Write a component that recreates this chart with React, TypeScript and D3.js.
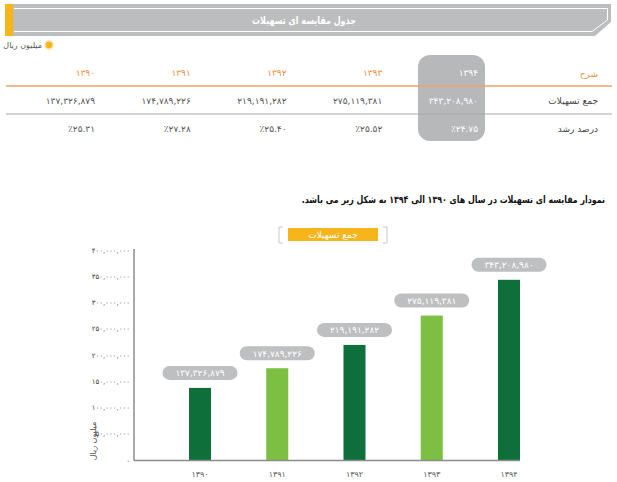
import React from 'react';
import * as d3 from 'd3';

const years = [1390, 1391, 1392, 1393, 1394];
const totals = [137326879, 174789226, 219191282, 275119381, 343208980];
const growth = [25.31, 27.28, 25.4, 25.52, 24.75];
const rowLabels = ['جمع تسهیلات', 'درصد رشد'];

const title = 'جدول مقایسه ای تسهیلات';
const unitLabel = 'میلیون ریال';
const caption = 'نمودار مقایسه ای تسهیلات در سال های ۱۳۹۰ الی ۱۳۹۴ به شکل زیر می باشد.';
const seriesName = 'جمع تسهیلات';

const fa = (s: string) => s.replace(/\d/g, (d) => '۰۱۲۳۴۵۶۷۸۹'[+d]);
const fmt = d3.format(',');
const pct = d3.format('.2f');

const FONT = '"DejaVu Sans", sans-serif';
const DARK = '#0e6f3a';
const LIGHT = '#7dbf43';

const App: React.FC = () => {
  const width = 617;
  const height = 482;

  // table columns, right edge of each year column
  const col = d3.scaleLinear().domain([0, years.length - 1]).range([95, 478]);

  // chart scales
  const x = d3
    .scaleBand<number>()
    .domain(years)
    .range([134, 575])
    .paddingInner(0.715)
    .paddingOuter(0.712);
  const y = d3.scaleLinear().domain([0, 400000000]).range([460, 250]);
  const xEnd = (x(years[years.length - 1]) ?? 0) + x.bandwidth();

  return (
    <svg
      width={width}
      height={height}
      style={{ position: 'absolute', left: 0, top: 0, background: '#fff' }}
      fontFamily={FONT}
    >
      {/* header bar */}
      <polygon points="5,4 611,4 611,22 595,36 5,36" fill="#bcbdbf" />
      <polyline
        points="14,8.5 607.5,8.5 607.5,20 592,31.5 14,31.5"
        fill="none"
        stroke="#fff"
        strokeWidth={1}
      />
      <rect x={5} y={4} width={8} height={32} fill="#f6b51b" />
      <g transform="translate(304,24) scale(0.76,1)">
        <text textAnchor="middle" fill="#fff" fontSize={10.5} fontWeight="bold">
          {title}
        </text>
      </g>

      {/* unit legend */}
      <circle cx={49} cy={45} r={4} fill="#f6b51b" stroke="#fde3a0" strokeWidth={1.5} />
      <text x={42} y={48} textAnchor="end" fill="#555" fontSize={8}>
        {unitLabel}
      </text>

      {/* table */}
      <rect x={418} y={55} width={67} height={86} rx={12} fill="#b7b8ba" />
      <line x1={6} x2={612} y1={86} y2={86} stroke="#eda56a" strokeWidth={1.5} />
      <line x1={6} x2={612} y1={114} y2={114} stroke="#a9a9a9" strokeWidth={1.2} />
      <text x={598} y={77} textAnchor="end" fill="#ee8f3a" fontSize={9}>
        شرح
      </text>
      {rowLabels.map((r, i) => (
        <text key={r} x={598} y={104 + i * 28} textAnchor="end" fill="#444" fontSize={9}>
          {r}
        </text>
      ))}
      {years.map((yr, i) => {
        const hl = i === years.length - 1;
        return (
          <g key={yr} fontSize={9}>
            <text x={col(i)} y={76} textAnchor="end" fill={hl ? '#fff' : '#ee8f3a'}>
              {fa(String(yr))}
            </text>
            <text x={col(i)} y={104} textAnchor="end" fill={hl ? '#fff' : '#555'}>
              {fa(fmt(totals[i]))}
            </text>
            <text x={col(i)} y={132} textAnchor="end" fill={hl ? '#fff' : '#555'}>
              {'٪' + fa(pct(growth[i]))}
            </text>
          </g>
        );
      })}

      {/* caption */}
      <g transform="translate(605,203) scale(0.79,1)">
        <text textAnchor="end" fill="#111" fontSize={10} fontWeight="bold">
          {'\u202B' + caption + '\u202C'}
        </text>
      </g>

      {/* series legend */}
      <path d="M283,227 h-4 v16 h4 M383,227 h4 v16 h-4" fill="none" stroke="#c8c8c8" strokeWidth={1} />
      <rect x={288} y={228} width={90} height={13} fill="#f6b51b" />
      <text x={333} y={238} textAnchor="middle" fill="#fff" fontSize={9}>
        {seriesName}
      </text>

      {/* y axis */}
      {y.ticks(8).map((t) => (
        <text key={t} x={130} y={y(t) + 2.5} textAnchor="end" fill="#444" fontSize={7}>
          {fa(fmt(t))}
        </text>
      ))}
      <text
        transform="translate(96,441) rotate(-90)"
        textAnchor="middle"
        fill="#555"
        fontSize={8}
      >
        {unitLabel}
      </text>

      {/* bars */}
      {years.map((yr, i) => {
        const bx = x(yr) ?? 0;
        const cx = bx + x.bandwidth() / 2;
        const top = y(totals[i]);
        return (
          <g key={yr}>
            <rect
              x={bx}
              y={top}
              width={x.bandwidth()}
              height={y(0) - top}
              fill={i % 2 === 0 ? DARK : LIGHT}
            />
            <rect x={cx - 37.5} y={top - 22} width={75} height={14} rx={7} fill="#bebfc1" />
            <text x={cx} y={top - 11.5} textAnchor="middle" fill="#fff" fontSize={9}>
              {fa(fmt(totals[i]))}
            </text>
            <text x={cx} y={477} textAnchor="middle" fill="#555" fontSize={8}>
              {fa(String(yr))}
            </text>
          </g>
        );
      })}

      <line x1={134} x2={134} y1={249} y2={460.5} stroke="#8c8c8c" strokeWidth={1.5} />
      <line x1={134} x2={xEnd} y1={460.5} y2={460.5} stroke="#8c8c8c" strokeWidth={1.5} />
    </svg>
  );
};

export default App;
